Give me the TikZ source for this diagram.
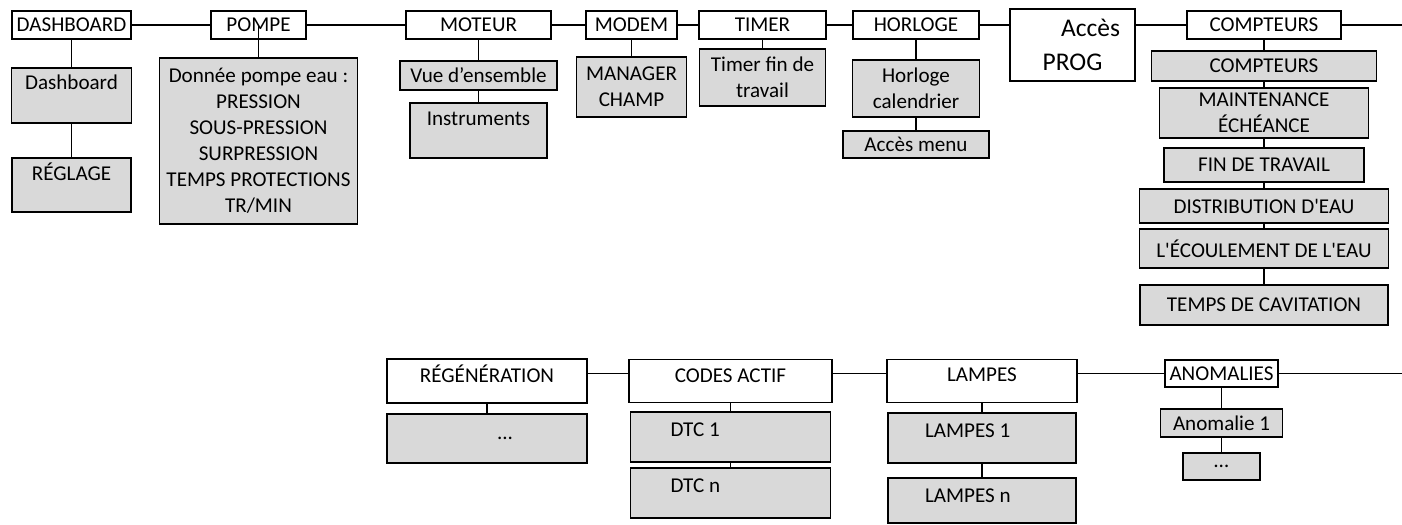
\documentclass[tikz,border=0pt]{standalone}
\usepackage{fontspec}
\newfontfamily\menufont{Carlito}
\definecolor{boxgray}{RGB}{217,217,217}

\begin{document}
\begin{tikzpicture}[
  line width=1pt,
  font=\menufont\fontsize{12}{14.8}\selectfont,
  head/.style={rectangle, draw, fill=white, minimum height=0.56cm, inner sep=1pt},
  sub/.style={rectangle, draw, fill=boxgray, minimum height=0.56cm, inner sep=1pt, align=center},
  toptext/.style 2 args={inner ysep=0pt, text height=#1, text depth=#2},
  node distance=2cm
]
\useasboundingbox (0,0) rectangle (28.04,-10.48);

% main menu
\node[head, minimum width=2.38cm] (dash) at (1.43,-0.5) {DASHBOARD};
\node[head, right of=dash, node distance=3.74cm, minimum width=1.9cm] (pompe) {POMPE};
\node[head, right of=pompe, node distance=4.4cm, minimum width=2.9cm] (moteur) {MOTEUR};
\node[head, right of=moteur, node distance=3.06cm, minimum width=1.82cm] (modem) {MODEM};
\node[head, right of=modem, node distance=2.62cm, minimum width=2.54cm] (timer) {TIMER};
\node[head, right of=timer, node distance=3.07cm, minimum width=2.52cm] (horloge) {HORLOGE};
\node[head, right of=horloge, node distance=3.13cm, yshift=-0.4cm, minimum width=2.5cm, minimum height=1.44cm, align=center, font=\menufont\fontsize{14.5}{19}\selectfont] (prog) {\hspace*{0.72cm}Accès\\PROG};
\node[head, right of=prog, node distance=3.83cm, yshift=0.4cm, minimum width=3.08cm] (compt) {COMPTEURS};
\coordinate[right of=compt, node distance=2.76cm] (topmore);

% sub menus
\node[sub, below of=dash, node distance=1.41cm, minimum width=2.4cm, toptext={0.44cm}{0.66cm}] (dashc) {Dashboard};
\node[sub, below of=dashc, node distance=1.79cm, minimum width=2.38cm, toptext={0.44cm}{0.64cm}] (regl) {RÉGLAGE};
\node[sub, below of=pompe, node distance=2.32cm, minimum width=3.96cm, minimum height=3.32cm] (pdata) {Donnée pompe eau :\\PRESSION\\SOUS-PRESSION\\SURPRESSION\\TEMPS PROTECTIONS\\TR/MIN};
\node[sub, below of=moteur, node distance=1.01cm, minimum width=3.14cm, minimum height=0.58cm] (vue) {Vue d’ensemble};
\node[sub, below of=vue, node distance=1.1cm, minimum width=2.74cm, toptext={0.44cm}{0.66cm}] (instr) {Instruments};
\node[sub, below of=modem, node distance=1.24cm, minimum width=2.2cm, minimum height=1.2cm] (mgr) {MANAGER\\CHAMP};
\node[sub, below of=timer, node distance=1.05cm, minimum width=2.52cm, minimum height=1.14cm] (tfin) {Timer fin de\\travail};
\node[sub, below of=horloge, node distance=1.27cm, minimum width=2.54cm, minimum height=1.14cm] (hcal) {Horloge\\calendrier};
\node[sub, below of=hcal, node distance=1.12cm, minimum width=2.92cm, minimum height=0.54cm] (amenu) {Accès menu};
\node[sub, below of=compt, node distance=0.82cm, minimum width=4.5cm, minimum height=0.6cm] (cnt) {COMPTEURS};
\node[sub, below of=cnt, node distance=0.94cm, minimum width=4.18cm, minimum height=1cm] (maint) {MAINTENANCE\\ÉCHÉANCE};
\node[sub, below of=maint, node distance=1.04cm, minimum width=4cm, minimum height=0.68cm] (fin) {FIN DE TRAVAIL};
\node[sub, below of=fin, node distance=0.82cm, minimum width=4.98cm, minimum height=0.68cm] (distr) {DISTRIBUTION D'EAU};
\node[sub, below of=distr, node distance=0.85cm, minimum width=4.98cm, minimum height=0.78cm] (ecoul) {L'ÉCOULEMENT DE L'EAU};
\node[sub, below of=ecoul, node distance=1.13cm, minimum width=4.96cm, minimum height=0.8cm] (cavit) {TEMPS DE CAVITATION};

% second line
\node[head, minimum width=4cm, toptext={0.46cm}{0.42cm}] (regen) at (9.74,-7.62) {RÉGÉNÉRATION};
\node[head, right of=regen, node distance=4.87cm, minimum width=4.06cm, toptext={0.46cm}{0.40cm}] (codes) {CODES ACTIF};
\node[head, right of=codes, node distance=5.03cm, minimum width=3.8cm, toptext={0.44cm}{0.42cm}] (lampes) {LAMPES};
\node[head, right of=lampes, node distance=4.79cm, yshift=0.15cm, minimum width=2.26cm, minimum height=0.54cm] (anom) {ANOMALIES};
\coordinate[right of=anom, node distance=3.61cm] (botmore);

\node[sub, below of=regen, node distance=1.15cm, minimum width=4cm, minimum height=0.98cm] (regdots) {\hspace*{0.72cm}...};
\node[sub, below of=codes, node distance=1.12cm, text width=2.4cm, inner xsep=0.8cm, align=flush left, toptext={0.48cm}{0.52cm}] (dtc1) {DTC 1};
\node[sub, below of=dtc1, node distance=1.12cm, text width=2.4cm, inner xsep=0.8cm, align=flush left, toptext={0.48cm}{0.52cm}] (dtcn) {DTC n};
\node[sub, below of=lampes, node distance=1.14cm, text width=2.28cm, inner xsep=0.74cm, align=flush left, toptext={0.48cm}{0.52cm}] (lamp1) {LAMPES 1};
\node[sub, below of=lamp1, node distance=1.25cm, text width=2.28cm, inner xsep=0.74cm, align=flush left, toptext={0.48cm}{0.42cm}] (lampn) {LAMPES n};
\node[sub, below of=anom, node distance=0.99cm, minimum width=2.44cm, minimum height=0.56cm] (anom1) {Anomalie 1};
\node[sub, below of=anom1, node distance=0.87cm, minimum width=1.54cm, minimum height=0.54cm] (anomdots) {…};

% links
\draw (dash) -- (pompe);
\draw (pompe) -- (moteur);
\draw (moteur) -- (modem);
\draw (modem) -- (timer);
\draw (timer) -- (horloge);
\draw (horloge.east) -- (horloge.east -| prog.west);
\draw (prog.east |- compt) -- (compt);
\draw (compt) -- (topmore);

\draw (dash) -- (dashc);
\draw (dashc) -- (regl);
\draw (pompe.center) -- (pdata);
\draw (moteur) -- (vue);
\draw (vue) -- (instr);
\draw (modem) -- (mgr);
\draw (timer) -- (tfin);
\draw (horloge) -- (hcal);
\draw (hcal) -- (amenu);
\draw (compt) -- (cnt);
\draw (cnt) -- (maint);
\draw (maint) -- (fin);
\draw (fin) -- (distr);
\draw (distr) -- (ecoul);
\draw (ecoul) -- (cavit);

\draw (regen.east |- anom) -- (codes.west |- anom);
\draw (codes.east |- anom) -- (lampes.west |- anom);
\draw (lampes.east |- anom) -- (anom);
\draw (anom) -- (botmore);

\draw (regen) -- (regdots);
\draw (codes) -- (dtc1);
\draw (dtc1) -- (dtcn);
\draw (lampes) -- (lamp1);
\draw (lamp1) -- (lampn);
\draw (anom) -- (anom1);
\draw (anom1) -- (anomdots);
\end{tikzpicture}
\end{document}
